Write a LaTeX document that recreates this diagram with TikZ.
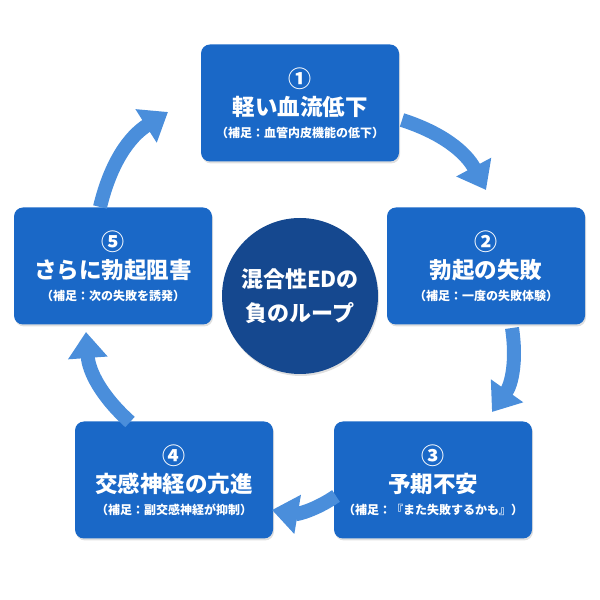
\documentclass[tikz,border=0pt]{standalone}
\usepackage{fontspec}
\setmainfont{Noto Sans CJK JP}
\usetikzlibrary{arrows.meta,shadows}
\definecolor{boxb}{HTML}{1A68C7}
\definecolor{navy}{HTML}{15488F}
\definecolor{arr}{HTML}{4A8EDB}
\newcommand{\mybox}[3]{{\fontsize{23}{26}\selectfont\bfseries #1}\\[6pt]{\fontsize{22.5}{26}\selectfont\bfseries #2}\\[8pt]{\fontsize{12}{14}\selectfont\bfseries #3}}
\begin{document}
\begin{tikzpicture}[x=1pt,y=1pt,
  box/.style={draw=none,fill=boxb,rounded corners=9pt,minimum width=198pt,minimum height=117pt,
    text=white,align=center,inner sep=0pt,drop shadow={opacity=0.25,shadow xshift=1pt,shadow yshift=-2pt}},
  flow/.style={draw=arr,line width=14pt,-{Triangle[width=38pt,length=26pt]},bend left=22}]
\useasboundingbox (0,0) rectangle (600,600);
\node[box] (b1) at (300,497) {\mybox{①}{軽い血流低下}{（補足：血管内皮機能の低下）}};
\node[box] (b2) at (486,334) {\mybox{②}{勃起の失敗}{（補足：一度の失敗体験）}};
\node[box] (b3) at (433,120) {\mybox{③}{予期不安}{（補足：『また失敗するかも』）}};
\node[box] (b4) at (174,120) {\mybox{④}{交感神経の亢進}{（補足：副交感神経が抑制）}};
\node[box] (b5) at (113,334) {\mybox{⑤}{さらに勃起阻害}{（補足：次の失敗を誘発）}};
\node[circle,fill=navy,minimum size=156pt,text=white,align=center,inner sep=0pt,
  font=\bfseries\fontsize{22}{34}\selectfont,drop shadow={opacity=0.25,shadow xshift=1pt,shadow yshift=-2pt}] (c) at (300,304) {混合性EDの\\負のループ};
\coordinate (s1) at (402,480); \coordinate (e1) at (486,410);
\coordinate (s2) at (512,272); \coordinate (e2) at (492,188);
\coordinate (s3) at (336,104); \coordinate (e3) at (272,90);
\coordinate (s4) at (130,178); \coordinate (e4) at (86,268);
\coordinate (s5) at (100,393); \coordinate (e5) at (168,488);
\draw[flow] (s1) to (e1);
\draw[flow] (s2) to (e2);
\draw[flow] (s3) to (e3);
\draw[flow] (s4) to (e4);
\draw[flow] (s5) to (e5);
\end{tikzpicture}
\end{document}
